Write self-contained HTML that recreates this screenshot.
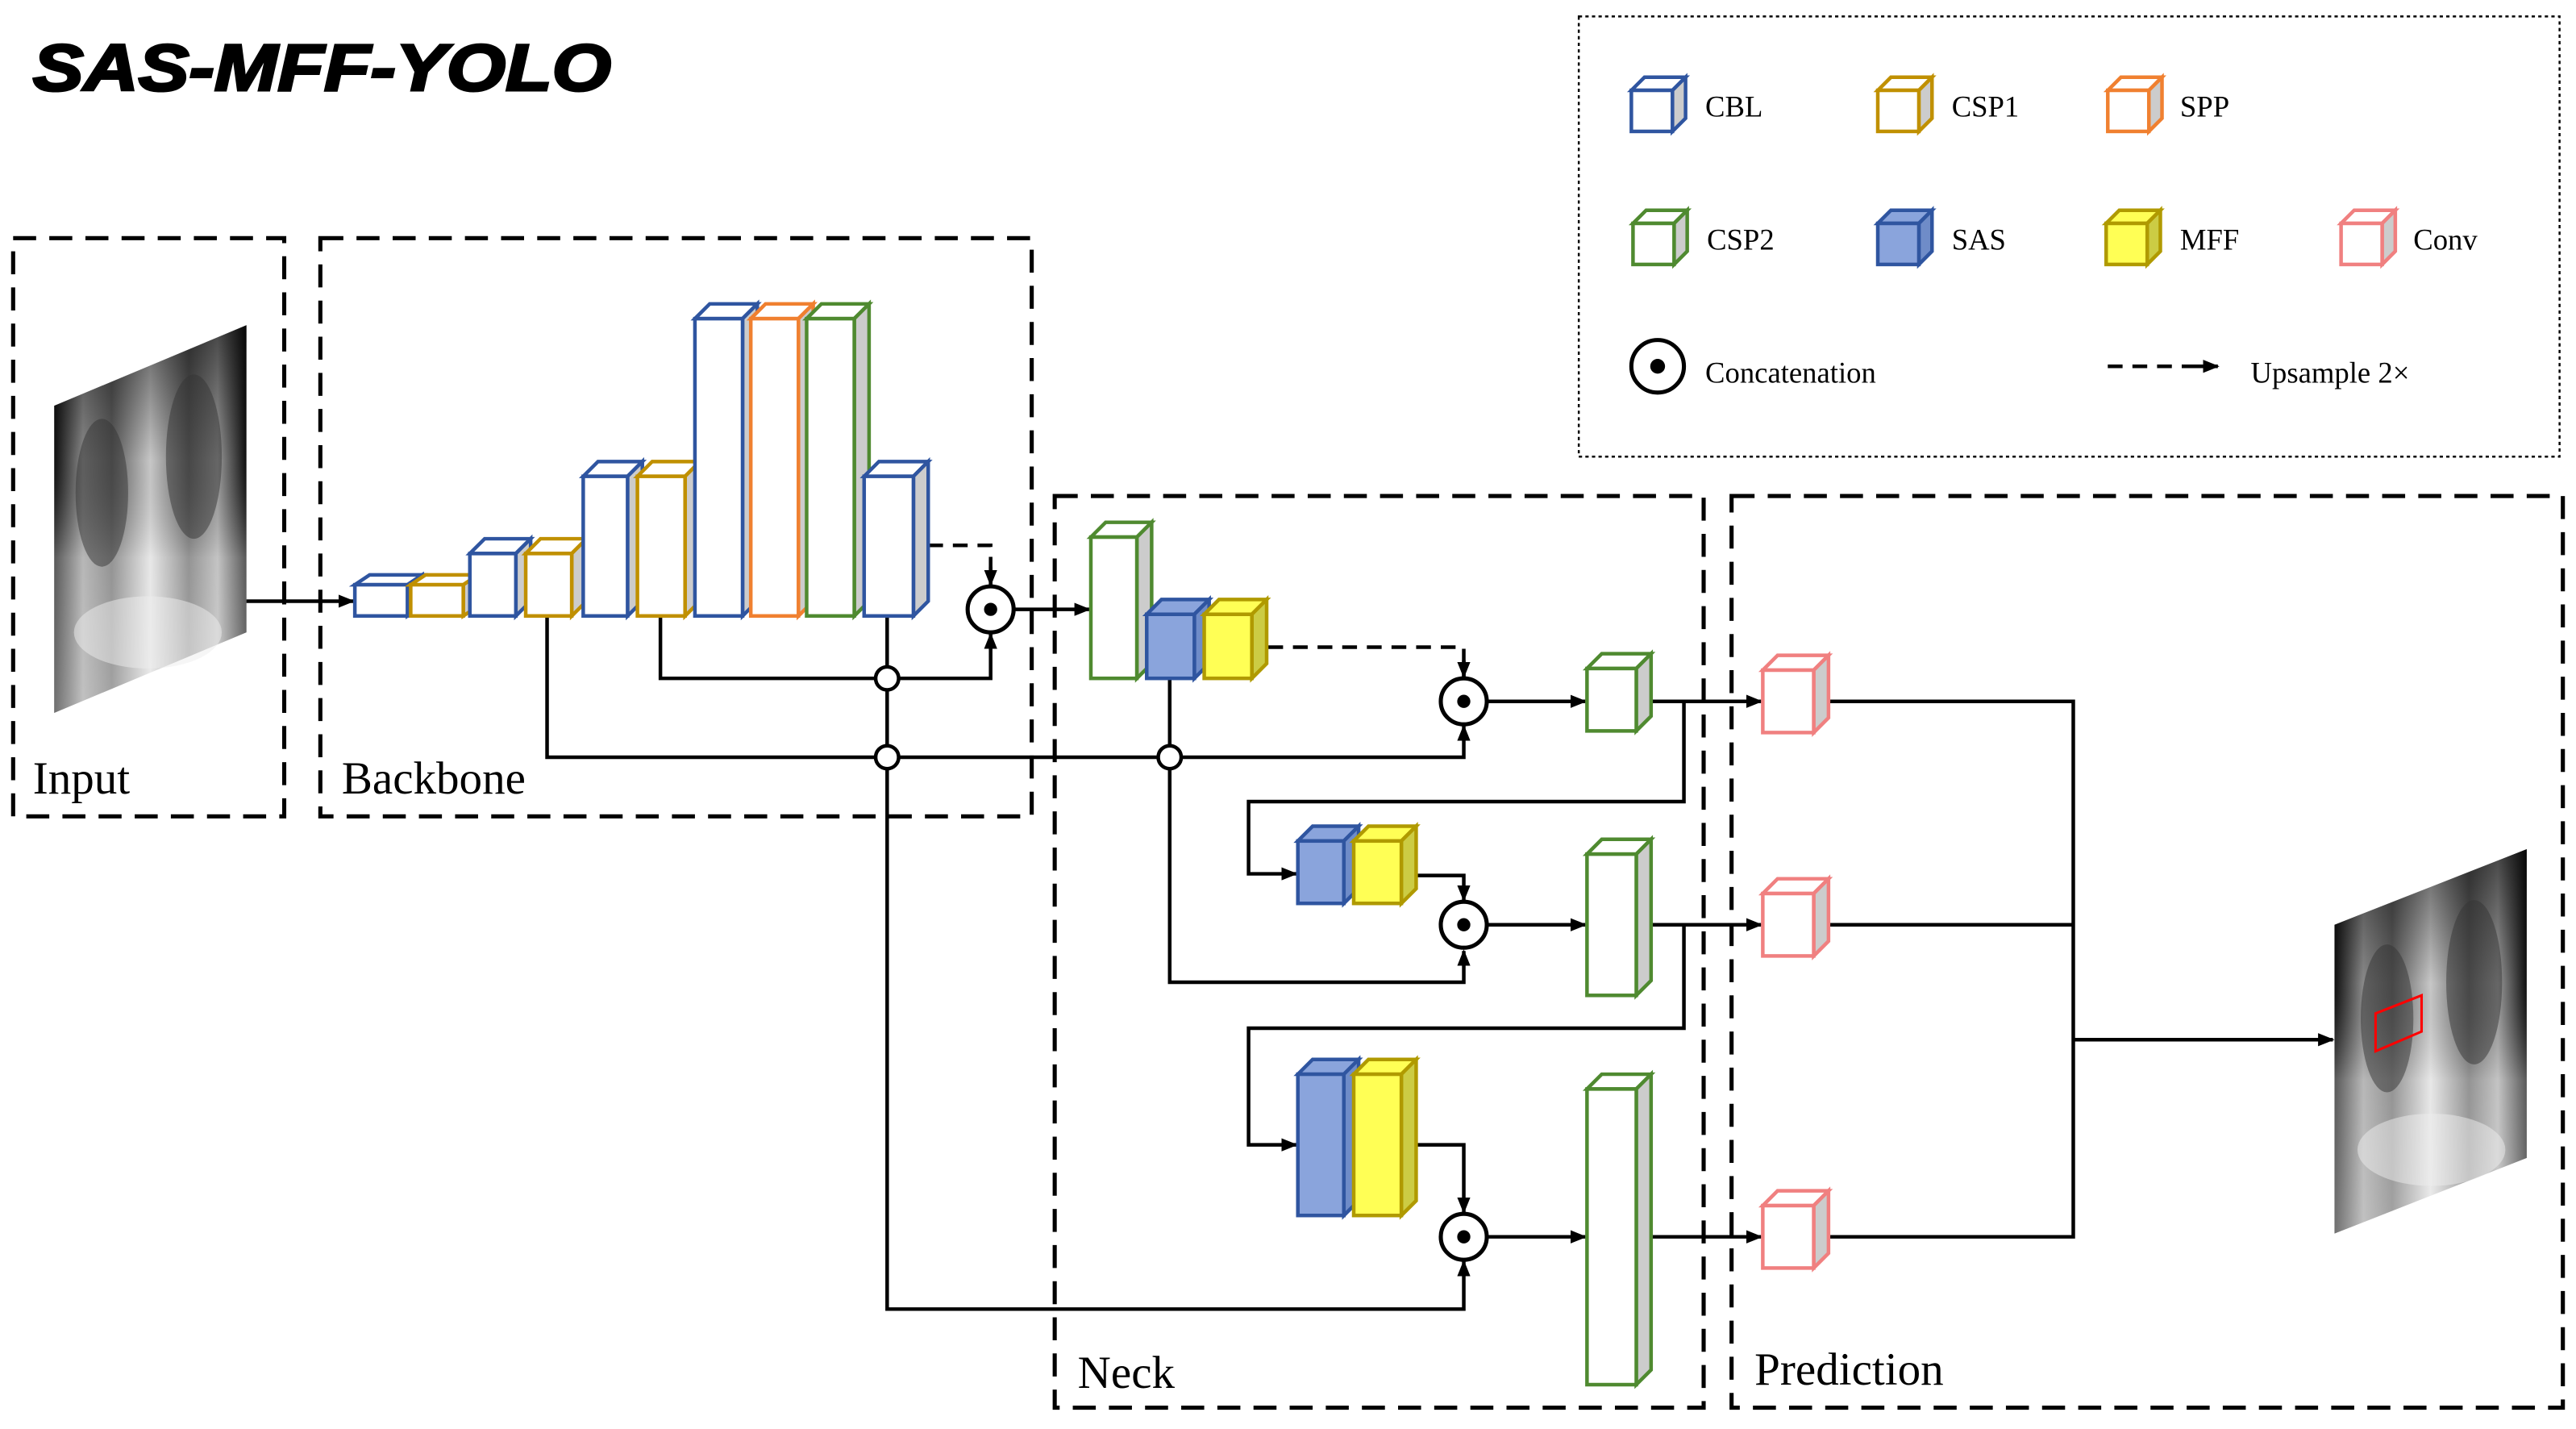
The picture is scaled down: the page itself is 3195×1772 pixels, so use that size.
<!DOCTYPE html>
<html><head><meta charset="utf-8"><style>
html,body{margin:0;padding:0;background:#fff}
svg{display:block}
text{font-family:"Liberation Serif",serif;fill:#000}
</style></head><body>
<svg width="3195" height="1772" viewBox="0 0 1568 870" preserveAspectRatio="none" xmlns="http://www.w3.org/2000/svg">
<defs>
<marker id="ar" markerWidth="10" markerHeight="8" refX="9" refY="4" orient="auto" markerUnits="userSpaceOnUse"><path d="M0,0 L10,4 L0,8 z" fill="#000"/></marker>
<linearGradient id="xr" x1="0" y1="0" x2="1" y2="0"><stop offset="0" stop-color="#111"/><stop offset="0.15" stop-color="#999"/><stop offset="0.3" stop-color="#666"/><stop offset="0.5" stop-color="#ddd"/><stop offset="0.7" stop-color="#666"/><stop offset="0.85" stop-color="#aaa"/><stop offset="1" stop-color="#111"/></linearGradient>
<linearGradient id="xv" x1="0" y1="0" x2="0" y2="1"><stop offset="0" stop-color="#000" stop-opacity="0.6"/><stop offset="0.35" stop-color="#000" stop-opacity="0.1"/><stop offset="0.6" stop-color="#fff" stop-opacity="0.3"/><stop offset="1" stop-color="#fff" stop-opacity="0.4"/></linearGradient>
</defs>

<text x="20" y="55" textLength="352" lengthAdjust="spacingAndGlyphs" style="font-family:'Liberation Sans',sans-serif;font-weight:bold;font-style:italic;font-size:40px;stroke:#000;stroke-width:1.5">SAS-MFF-YOLO</text>

<g fill="none" stroke="#000" stroke-width="2.5" stroke-dasharray="14,8">
<rect x="8" y="145" width="165" height="352"/>
<rect x="195" y="145" width="433" height="352"/>
<rect x="642" y="302" width="395" height="555"/>
<rect x="1054" y="302" width="506" height="555"/>
</g>
<rect x="961" y="10" width="597" height="268" fill="none" stroke="#000" stroke-width="1.2" stroke-dasharray="2,2"/>

<text x="20" y="483" font-size="28">Input</text>
<text x="208" y="483" font-size="28">Backbone</text>
<text x="656" y="845" font-size="28">Neck</text>
<text x="1068" y="843" font-size="28">Prediction</text>

<g>
<polygon points="33,247 150,198 150,385 33,434" fill="url(#xr)"/>
<polygon points="33,247 150,198 150,385 33,434" fill="url(#xv)"/>
<ellipse cx="62" cy="300" rx="16" ry="45" fill="#333" opacity="0.5"/>
<ellipse cx="118" cy="278" rx="17" ry="50" fill="#333" opacity="0.5"/>
<ellipse cx="90" cy="385" rx="45" ry="22" fill="#eee" opacity="0.5"/>
<polygon points="1421,563 1538,517 1538,705 1421,751" fill="url(#xr)"/>
<polygon points="1421,563 1538,517 1538,705 1421,751" fill="url(#xv)"/>
<ellipse cx="1453" cy="620" rx="16" ry="45" fill="#333" opacity="0.5"/>
<ellipse cx="1506" cy="598" rx="17" ry="50" fill="#333" opacity="0.5"/>
<ellipse cx="1480" cy="700" rx="45" ry="22" fill="#eee" opacity="0.5"/>
<polygon points="1446,617 1474,606 1474,628 1446,640" fill="none" stroke="#f00" stroke-width="1.5"/>
</g>

<g fill="none" stroke="#000" stroke-width="2.2">
<line x1="150" y1="366" x2="215" y2="366" marker-end="url(#ar)"/>
<path d="M565,332 H603 V356" stroke-dasharray="9,6"/>
<line x1="603" y1="345" x2="603" y2="356" marker-end="url(#ar)"/>
<path d="M402,375 V413 H603 V386" marker-end="url(#ar)"/>
<path d="M540,375 V797 H891 V768" marker-end="url(#ar)"/>
<path d="M333,375 V461 H891 V442" marker-end="url(#ar)"/>
<line x1="617" y1="371" x2="663" y2="371" marker-end="url(#ar)"/>
<path d="M772,394 H891 V412" stroke-dasharray="9,6"/>
<line x1="891" y1="402" x2="891" y2="412" marker-end="url(#ar)"/>
<line x1="905" y1="427" x2="965" y2="427" marker-end="url(#ar)"/>
<line x1="1006" y1="427" x2="1072" y2="427" marker-end="url(#ar)"/>
<path d="M1025,427 V488 H760 V532 H789" marker-end="url(#ar)"/>
<path d="M862,533 H891 V548" marker-end="url(#ar)"/>
<path d="M712,413 V598 H891 V579" marker-end="url(#ar)"/>
<line x1="905" y1="563" x2="965" y2="563" marker-end="url(#ar)"/>
<line x1="1006" y1="563" x2="1072" y2="563" marker-end="url(#ar)"/>
<path d="M1025,563 V626 H760 V697 H789" marker-end="url(#ar)"/>
<path d="M862,697 H891 V738" marker-end="url(#ar)"/>
<line x1="905" y1="753" x2="965" y2="753" marker-end="url(#ar)"/>
<line x1="1006" y1="753" x2="1072" y2="753" marker-end="url(#ar)"/>
<path d="M1113,427 H1262 V753 H1113 M1113,563 H1262"/>
<line x1="1262" y1="633" x2="1420" y2="633" marker-end="url(#ar)"/>
<line x1="1283" y1="223" x2="1340" y2="223" stroke-dasharray="9,6"/>
<line x1="1335" y1="223" x2="1350" y2="223" marker-end="url(#ar)"/>
</g>

<g fill="#fff" stroke="#000" stroke-width="2.2">
<circle cx="540" cy="413" r="7"/><circle cx="540" cy="461" r="7"/><circle cx="712" cy="461" r="7"/>
</g>
<g stroke="#000" stroke-width="2.5" fill="#fff">
<circle cx="603" cy="371" r="14"/><circle cx="891" cy="427" r="14"/><circle cx="891" cy="563" r="14"/><circle cx="891" cy="753" r="14"/><circle cx="1009" cy="223" r="16"/>
</g>
<g fill="#000">
<circle cx="603" cy="371" r="4"/><circle cx="891" cy="427" r="4"/><circle cx="891" cy="563" r="4"/><circle cx="891" cy="753" r="4"/><circle cx="1009" cy="223" r="4.5"/>
</g>

<g stroke-width="2.2" stroke-linejoin="miter">
<g stroke="#2f55a0"><polygon points="216,356 225,350 257,350 248,356" fill="#fff"/><polygon points="248,356 257,350 257,369 248,375" fill="#ccc"/><rect x="216" y="356" width="32" height="19" fill="#fff"/></g>
<g stroke="#c09000"><polygon points="250,356 259,350 291,350 282,356" fill="#fff"/><polygon points="282,356 291,350 291,369 282,375" fill="#ccc"/><rect x="250" y="356" width="32" height="19" fill="#fff"/></g>
<g stroke="#2f55a0"><polygon points="286,337 295,328 323,328 314,337" fill="#fff"/><polygon points="314,337 323,328 323,366 314,375" fill="#ccc"/><rect x="286" y="337" width="28" height="38" fill="#fff"/></g>
<g stroke="#c09000"><polygon points="320,337 329,328 357,328 348,337" fill="#fff"/><polygon points="348,337 357,328 357,366 348,375" fill="#ccc"/><rect x="320" y="337" width="28" height="38" fill="#fff"/></g>
<g stroke="#2f55a0"><polygon points="355,290 364,281 391,281 382,290" fill="#fff"/><polygon points="382,290 391,281 391,366 382,375" fill="#ccc"/><rect x="355" y="290" width="27" height="85" fill="#fff"/></g>
<g stroke="#c09000"><polygon points="388,290 397,281 426,281 417,290" fill="#fff"/><polygon points="417,290 426,281 426,366 417,375" fill="#ccc"/><rect x="388" y="290" width="29" height="85" fill="#fff"/></g>
<g stroke="#2f55a0"><polygon points="423,194 432,185 461,185 452,194" fill="#fff"/><polygon points="452,194 461,185 461,366 452,375" fill="#ccc"/><rect x="423" y="194" width="29" height="181" fill="#fff"/></g>
<g stroke="#f08030"><polygon points="457,194 466,185 495,185 486,194" fill="#fff"/><polygon points="486,194 495,185 495,366 486,375" fill="#ccc"/><rect x="457" y="194" width="29" height="181" fill="#fff"/></g>
<g stroke="#4f8a30"><polygon points="491,194 500,185 529,185 520,194" fill="#fff"/><polygon points="520,194 529,185 529,366 520,375" fill="#ccc"/><rect x="491" y="194" width="29" height="181" fill="#fff"/></g>
<g stroke="#2f55a0"><polygon points="526,290 535,281 565,281 556,290" fill="#fff"/><polygon points="556,290 565,281 565,366 556,375" fill="#ccc"/><rect x="526" y="290" width="30" height="85" fill="#fff"/></g>
<g stroke="#4f8a30"><polygon points="664,327 673,318 701,318 692,327" fill="#fff"/><polygon points="692,327 701,318 701,404 692,413" fill="#ccc"/><rect x="664" y="327" width="28" height="86" fill="#fff"/></g>
<g stroke="#2f55a0"><polygon points="698,374 707,365 736,365 727,374" fill="#8aa4dc"/><polygon points="727,374 736,365 736,404 727,413" fill="#6f8cc8"/><rect x="698" y="374" width="29" height="39" fill="#8aa4dc"/></g>
<g stroke="#b09a00"><polygon points="733,374 742,365 771,365 762,374" fill="#ffff55"/><polygon points="762,374 771,365 771,404 762,413" fill="#cccc44"/><rect x="733" y="374" width="29" height="39" fill="#ffff55"/></g>
<g stroke="#4f8a30"><polygon points="966,407 975,398 1005,398 996,407" fill="#fff"/><polygon points="996,407 1005,398 1005,436 996,445" fill="#ccc"/><rect x="966" y="407" width="30" height="38" fill="#fff"/></g>
<g stroke="#2f55a0"><polygon points="790,512 799,503 827,503 818,512" fill="#8aa4dc"/><polygon points="818,512 827,503 827,541 818,550" fill="#6f8cc8"/><rect x="790" y="512" width="28" height="38" fill="#8aa4dc"/></g>
<g stroke="#b09a00"><polygon points="824,512 833,503 862,503 853,512" fill="#ffff55"/><polygon points="853,512 862,503 862,541 853,550" fill="#cccc44"/><rect x="824" y="512" width="29" height="38" fill="#ffff55"/></g>
<g stroke="#4f8a30"><polygon points="966,520 975,511 1005,511 996,520" fill="#fff"/><polygon points="996,520 1005,511 1005,597 996,606" fill="#ccc"/><rect x="966" y="520" width="30" height="86" fill="#fff"/></g>
<g stroke="#2f55a0"><polygon points="790,654 799,645 827,645 818,654" fill="#8aa4dc"/><polygon points="818,654 827,645 827,731 818,740" fill="#6f8cc8"/><rect x="790" y="654" width="28" height="86" fill="#8aa4dc"/></g>
<g stroke="#b09a00"><polygon points="824,654 833,645 862,645 853,654" fill="#ffff55"/><polygon points="853,654 862,645 862,731 853,740" fill="#cccc44"/><rect x="824" y="654" width="29" height="86" fill="#ffff55"/></g>
<g stroke="#4f8a30"><polygon points="966,663 975,654 1005,654 996,663" fill="#fff"/><polygon points="996,663 1005,654 1005,834 996,843" fill="#ccc"/><rect x="966" y="663" width="30" height="180" fill="#fff"/></g>
<g stroke="#f08080"><polygon points="1073,408 1082,399 1113,399 1104,408" fill="#fff"/><polygon points="1104,408 1113,399 1113,437 1104,446" fill="#ccc"/><rect x="1073" y="408" width="31" height="38" fill="#fff"/></g>
<g stroke="#f08080"><polygon points="1073,544 1082,535 1113,535 1104,544" fill="#fff"/><polygon points="1104,544 1113,535 1113,573 1104,582" fill="#ccc"/><rect x="1073" y="544" width="31" height="38" fill="#fff"/></g>
<g stroke="#f08080"><polygon points="1073,734 1082,725 1113,725 1104,734" fill="#fff"/><polygon points="1104,734 1113,725 1113,763 1104,772" fill="#ccc"/><rect x="1073" y="734" width="31" height="38" fill="#fff"/></g>
<g stroke="#2f55a0"><polygon points="993,55 1001,47 1026,47 1018,55" fill="#fff"/><polygon points="1018,55 1026,47 1026,72 1018,80" fill="#ccc"/><rect x="993" y="55" width="25" height="25" fill="#fff"/></g>
<g stroke="#c09000"><polygon points="1143,55 1151,47 1176,47 1168,55" fill="#fff"/><polygon points="1168,55 1176,47 1176,72 1168,80" fill="#ccc"/><rect x="1143" y="55" width="25" height="25" fill="#fff"/></g>
<g stroke="#f08030"><polygon points="1283,55 1291,47 1316,47 1308,55" fill="#fff"/><polygon points="1308,55 1316,47 1316,72 1308,80" fill="#ccc"/><rect x="1283" y="55" width="25" height="25" fill="#fff"/></g>
<g stroke="#4f8a30"><polygon points="994,136 1002,128 1027,128 1019,136" fill="#fff"/><polygon points="1019,136 1027,128 1027,153 1019,161" fill="#ccc"/><rect x="994" y="136" width="25" height="25" fill="#fff"/></g>
<g stroke="#2f55a0"><polygon points="1143,136 1151,128 1176,128 1168,136" fill="#8aa4dc"/><polygon points="1168,136 1176,128 1176,153 1168,161" fill="#6f8cc8"/><rect x="1143" y="136" width="25" height="25" fill="#8aa4dc"/></g>
<g stroke="#b09a00"><polygon points="1282,136 1290,128 1315,128 1307,136" fill="#ffff55"/><polygon points="1307,136 1315,128 1315,153 1307,161" fill="#cccc44"/><rect x="1282" y="136" width="25" height="25" fill="#ffff55"/></g>
<g stroke="#f08080"><polygon points="1425,136 1433,128 1458,128 1450,136" fill="#fff"/><polygon points="1450,136 1458,128 1458,153 1450,161" fill="#ccc"/><rect x="1425" y="136" width="25" height="25" fill="#fff"/></g>
</g>

<g font-size="18">
<text x="1038" y="71">CBL</text>
<text x="1188" y="71">CSP1</text>
<text x="1327" y="71">SPP</text>
<text x="1039" y="152">CSP2</text>
<text x="1188" y="152">SAS</text>
<text x="1327" y="152">MFF</text>
<text x="1469" y="152">Conv</text>
<text x="1038" y="233">Concatenation</text>
<text x="1370" y="233">Upsample 2×</text>
</g>
</svg>
</body></html>
